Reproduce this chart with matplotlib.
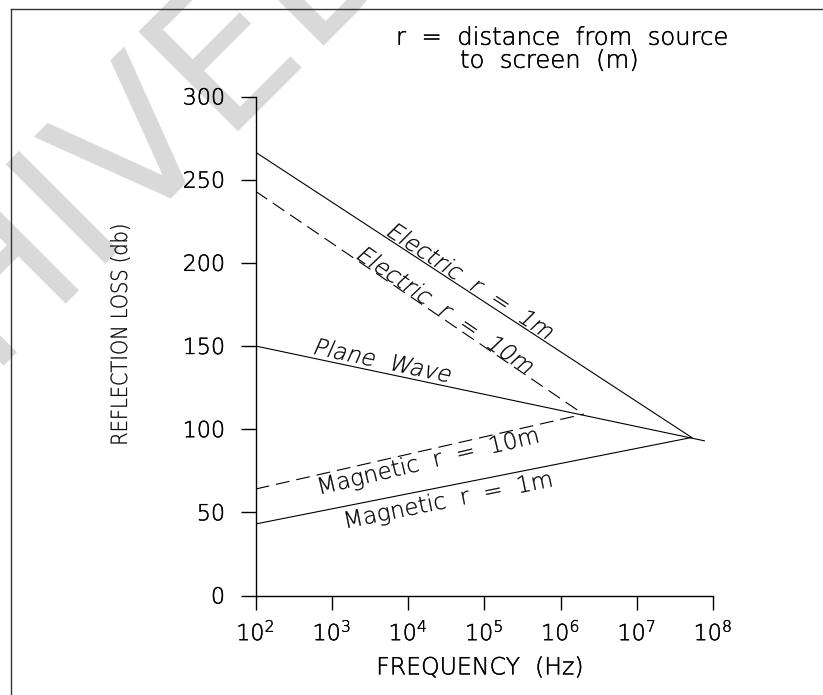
import math

import matplotlib
matplotlib.use("Agg")
import matplotlib.patheffects as pe
import matplotlib.pyplot as plt
from matplotlib.font_manager import FontProperties
from matplotlib.lines import Line2D
from matplotlib.patches import PathPatch
from matplotlib.textpath import TextPath
from matplotlib.transforms import Affine2D
from matplotlib.ticker import FixedLocator, FuncFormatter

plt.rcParams["font.family"] = ["DejaVu Sans"]
plt.rcParams["font.weight"] = "light"
plt.rcParams["axes.labelweight"] = "light"
plt.rcParams["lines.scale_dashes"] = False

# reflection loss curves: (frequency in Hz, loss in dB) end points
electric_1m_f = [1e2, 5.25e7]
electric_1m_db = [266.5, 95]
electric_10m_f = [1e2, 2.0e6]
electric_10m_db = [243, 109]
plane_wave_f = [1e2, 7.7e7]
plane_wave_db = [150, 93]
magnetic_10m_f = [1e2, 2.0e6]
magnetic_10m_db = [64, 109]
magnetic_1m_f = [1e2, 5.25e7]
magnetic_1m_db = [43, 95]

y_ticks = [0, 50, 100, 150, 200, 250, 300]
x_exponents = [2, 3, 4, 5, 6, 7, 8]

W, H = 823, 695
DPI = 100
LIGHT = FontProperties(family="DejaVu Sans", weight="light")
INK = [pe.withStroke(linewidth=0.3, foreground="black")]

fig = plt.figure(figsize=(W / DPI, H / DPI), dpi=DPI)
ax = fig.add_axes([255.6 / W, 1 - 595.5 / H, (713 - 255.6) / W, 499 / H])
ax.patch.set_alpha(0)


def path_label(text, x_px, y_px, angle, size, slant=0.0, stretch=1.0):
    """Place a label (optionally slanted / narrowed) centred at a pixel position."""
    path = TextPath((0, 0), text, size=size, prop=LIGHT)
    ext = path.get_extents()
    cx = (ext.x0 + ext.x1) / 2
    cy = (ext.y0 + ext.y1) / 2
    tr = (Affine2D().translate(-cx, -cy).scale(stretch, 1).skew_deg(slant, 0)
          .rotate_deg(angle).scale(1 / 72).translate(x_px / DPI, (H - y_px) / DPI)
          + fig.dpi_scale_trans)
    fig.add_artist(PathPatch(path, transform=tr, facecolor="black", edgecolor="black",
                             lw=0.2))


# faint stamp behind everything
fig.text(66 / W, 1 - 302 / H, "ARCHIVED", fontsize=138, color="#d9d9d9",
         rotation=45, rotation_mode="anchor", ha="center", va="baseline",
         fontweight="normal", zorder=-1)

# page frame (left and top edge)
fig.add_artist(Line2D([11 / W, 11 / W], [0, 1 - 9.3 / H], transform=fig.transFigure,
                      color="#333333", lw=1.0))
fig.add_artist(Line2D([11 / W, 1], [1 - 9.3 / H, 1 - 9.3 / H], transform=fig.transFigure,
                      color="#333333", lw=1.0))

ax.set_xscale("log")
ax.set_xlim(1e2, 1e8)
ax.set_ylim(0, 300)

solid = dict(color="black", lw=0.8)
dashed = dict(color="black", lw=0.8, dashes=(10, 5))
ax.plot(electric_1m_f, electric_1m_db, **solid)
ax.plot(electric_10m_f, electric_10m_db, **dashed)
ax.plot(plane_wave_f, plane_wave_db, **solid)
ax.plot(magnetic_10m_f, magnetic_10m_db, **dashed)
ax.plot(magnetic_1m_f, magnetic_1m_db, **solid)

for s in ["top", "right"]:
    ax.spines[s].set_visible(False)
for s in ["left", "bottom"]:
    ax.spines[s].set_linewidth(1.0)

ax.yaxis.set_major_locator(FixedLocator(y_ticks))
ax.xaxis.set_major_locator(FixedLocator([10.0 ** e for e in x_exponents]))
ax.xaxis.set_minor_locator(FixedLocator([]))
ax.xaxis.set_major_formatter(
    FuncFormatter(lambda v, p: r"$\mathregular{10^{%d}}$" % round(math.log10(v))))
ax.tick_params(axis="y", direction="out", length=11, width=1.0, pad=11, labelsize=16,
               labelcolor="black")
ax.tick_params(axis="x", direction="out", length=10, width=1.0, pad=7, labelsize=16,
               labelcolor="black")
for tick in ax.xaxis.get_major_ticks() + ax.yaxis.get_major_ticks():
    tick.label1.set_path_effects(INK)

ax.set_xlabel("FREQUENCY  (Hz)", fontsize=17, path_effects=INK)
ax.xaxis.set_label_coords(0.49, -0.12)
# narrow upright axis title on the left
path_label("REFLECTION LOSS (db)", 120, 334.5, 90, 16, stretch=0.87)

# curve labels laid along each line
path_label("Electric  r  =  1m", 472, 281, -33.2, 16.5, slant=12)
path_label("Electric  r  =  10m", 447, 310, -34.3, 16.5, slant=12)
path_label("Plane  Wave", 384, 360, -11.9, 16.5, slant=12)
path_label("Magnetic  r  =  10m", 429, 462, 13.4, 16.5)
path_label("Magnetic  r  =  1m", 449, 501, 11.5, 16.5)

fig.text(396 / W, 1 - 37.7 / H, "r  =  distance  from  source", fontsize=17.5,
         ha="left", va="center", path_effects=INK)
fig.text(460 / W, 1 - 60.7 / H, "to  screen  (m)", fontsize=17.5, ha="left",
         va="center", path_effects=INK)

fig.savefig("out.png", dpi=DPI)
